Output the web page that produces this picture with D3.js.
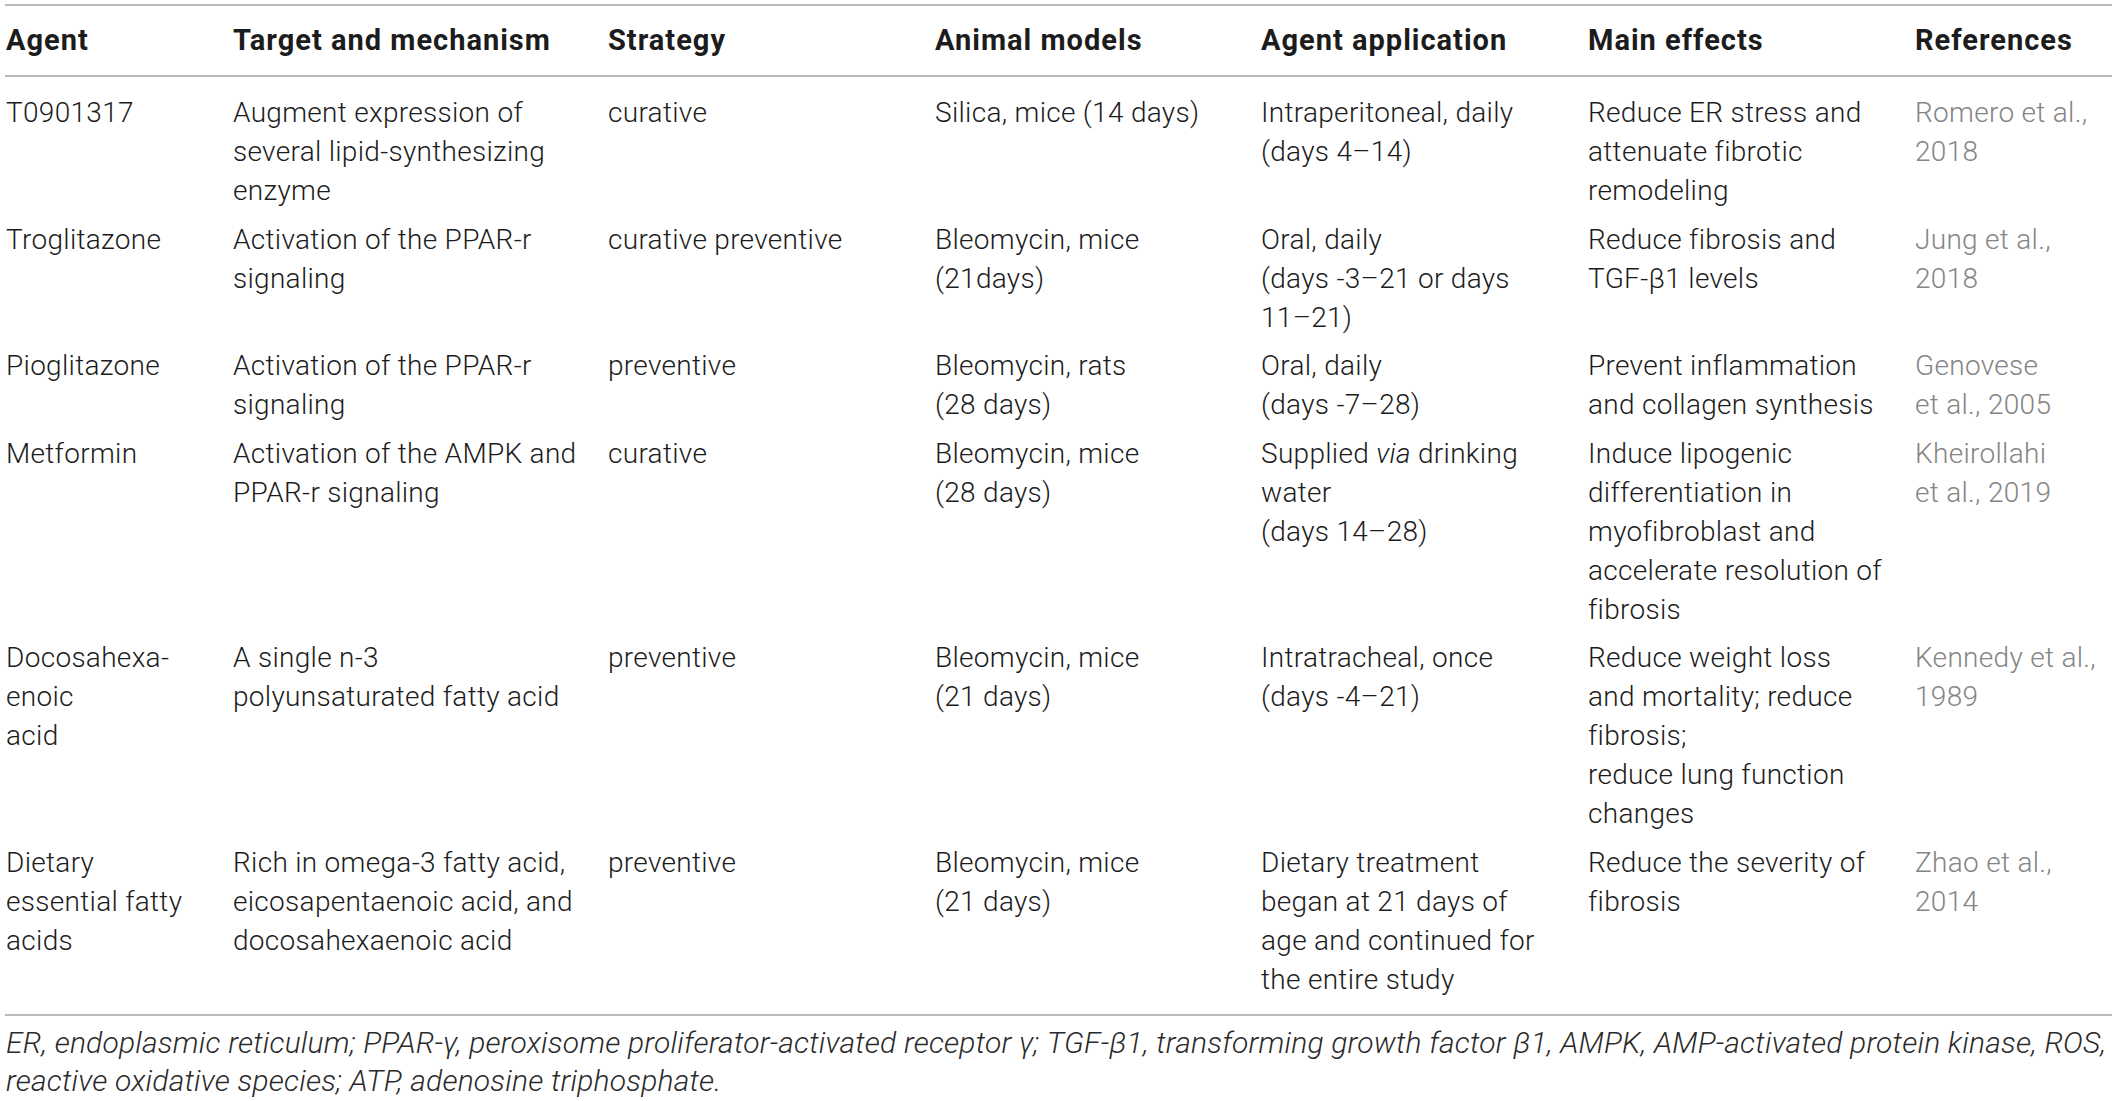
<!DOCTYPE html>
<html lang="en">
<head>
    <meta charset="UTF-8">
    <title>Lipid-targeting agents in pulmonary fibrosis models</title>
    <script src="https://d3js.org/d3.v7.min.js"></script>
    <style>
        body { margin: 0; background: #fff; overflow: hidden; }
        text { font-family: Roboto, "Liberation Sans", sans-serif; }
    </style>
</head>
<body>
    <script>
        // column headers
        const columns = ["Agent", "Target and mechanism", "Strategy", "Animal models",
                         "Agent application", "Main effects", "References"];

        // one entry per table row, each cell already broken into its printed lines
        const agents = [
            ["T0901317"],
            ["Troglitazone"],
            ["Pioglitazone"],
            ["Metformin"],
            ["Docosahexa-", "enoic", "acid"],
            ["Dietary", "essential fatty", "acids"]
        ];
        const targets = [
            ["Augment expression of", "several lipid-synthesizing", "enzyme"],
            ["Activation of the PPAR-r", "signaling"],
            ["Activation of the PPAR-r", "signaling"],
            ["Activation of the AMPK and", "PPAR-r signaling"],
            ["A single n-3", "polyunsaturated fatty acid"],
            ["Rich in omega-3 fatty acid,", "eicosapentaenoic acid, and", "docosahexaenoic acid"]
        ];
        const strategies = [
            ["curative"],
            ["curative preventive"],
            ["preventive"],
            ["curative"],
            ["preventive"],
            ["preventive"]
        ];
        const models = [
            ["Silica, mice (14 days)"],
            ["Bleomycin, mice", "(21days)"],
            ["Bleomycin, rats", "(28 days)"],
            ["Bleomycin, mice", "(28 days)"],
            ["Bleomycin, mice", "(21 days)"],
            ["Bleomycin, mice", "(21 days)"]
        ];
        const applications = [
            ["Intraperitoneal, daily", "(days 4\u201314)"],
            ["Oral, daily", "(days -3\u201321 or days", "11\u201321)"],
            ["Oral, daily", "(days -7\u201328)"],
            ["Supplied *via* drinking", "water", "(days 14\u201328)"],
            ["Intratracheal, once", "(days -4\u201321)"],
            ["Dietary treatment", "began at 21 days of", "age and continued for", "the entire study"]
        ];
        const effects = [
            ["Reduce ER stress and", "attenuate fibrotic", "remodeling"],
            ["Reduce fibrosis and", "TGF-\u03b21 levels"],
            ["Prevent inflammation", "and collagen synthesis"],
            ["Induce lipogenic", "differentiation in", "myofibroblast and", "accelerate resolution of", "fibrosis"],
            ["Reduce weight loss", "and mortality; reduce", "fibrosis;", "reduce lung function", "changes"],
            ["Reduce the severity of", "fibrosis"]
        ];
        const references = [
            ["Romero et al.,", "2018"],
            ["Jung et al.,", "2018"],
            ["Genovese", "et al., 2005"],
            ["Kheirollahi", "et al., 2019"],
            ["Kennedy et al.,", "1989"],
            ["Zhao et al.,", "2014"]
        ];
        const footnote = [
            "ER, endoplasmic reticulum; PPAR-\u03b3, peroxisome proliferator-activated receptor \u03b3; TGF-\u03b21, transforming growth factor \u03b21, AMPK, AMP-activated protein kinase, ROS,",
            "reactive oxidative species; ATP, adenosine triphosphate."
        ];

        const cells = [agents, targets, strategies, models, applications, effects, references];

        const width = 2118, height = 1101;
        const lineH = 39;       // distance between lines inside a cell
        const rowGap = 48.6;    // last line of one row to first line of next

        const svg = d3.select("body").append("svg")
            .attr("width", width)
            .attr("height", height);

        // column x positions
        const x = d3.scaleOrdinal()
            .domain(columns)
            .range([6, 233, 608, 935, 1261, 1588, 1915]);

        // first-line baseline for each row, from the number of lines it holds
        const rowLines = agents.map((_, i) => d3.max(cells, c => c[i].length));
        const rowStart = [];
        let yb = 122;
        rowLines.forEach((n, i) => {
            rowStart.push(yb);
            yb += (n - 1) * lineH + rowGap;
        });
        const y = d3.scaleOrdinal().domain(d3.range(agents.length)).range(rowStart);

        // rules
        const rules = [5, 76, 1015];
        svg.selectAll("line.rule")
            .data(rules)
            .enter().append("line")
            .attr("class", "rule")
            .attr("x1", 5).attr("x2", 2112)
            .attr("y1", d => d).attr("y2", d => d)
            .attr("stroke", "#a3a3a3")
            .attr("stroke-width", 1.6);

        // header
        svg.selectAll("text.head")
            .data(columns)
            .enter().append("text")
            .attr("class", "head")
            .attr("x", d => x(d))
            .attr("y", 50)
            .attr("font-size", 29)
            .attr("font-weight", 700)
            .attr("letter-spacing", 1)
            .attr("fill", "#1c1c1c")
            .text(d => d);

        // body cells
        const flat = [];
        cells.forEach((col, ci) => {
            col.forEach((lines, ri) => {
                lines.forEach((ln, li) => flat.push({ col: columns[ci], row: ri, line: li, text: ln, ref: ci === 6 }));
            });
        });

        const t = svg.selectAll("text.cell")
            .data(flat)
            .enter().append("text")
            .attr("class", "cell")
            .attr("x", d => x(d.col))
            .attr("y", d => y(d.row) + d.line * lineH)
            .attr("font-size", 28)
            .attr("font-weight", 300)
            .attr("letter-spacing", 0.3)
            .attr("fill", d => d.ref ? "#858585" : "#1c1c1c");

        // split on *...* so italic words stay inline
        t.each(function(d) {
            const parts = d.text.split("*");
            const el = d3.select(this);
            parts.forEach((p, i) => {
                if (!p) return;
                el.append("tspan")
                    .attr("font-style", i % 2 ? "italic" : null)
                    .text(p);
            });
        });

        // footnote
        svg.selectAll("text.note")
            .data(footnote)
            .enter().append("text")
            .attr("class", "note")
            .attr("x", 6)
            .attr("y", (d, i) => 1053 + i * 38)
            .attr("font-size", 30)
            .attr("font-weight", 300)
            .attr("font-style", "italic")
            .attr("letter-spacing", 0.2)
            .attr("fill", "#2a2a2a")
            .text(d => d);
    </script>
</body>
</html>
